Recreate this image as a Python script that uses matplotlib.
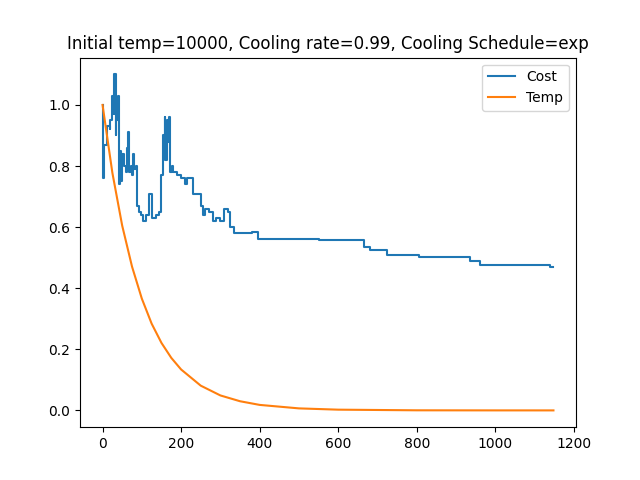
import matplotlib
matplotlib.use("Agg")
import matplotlib.pyplot as plt

cost_x = [0,2,4,10,12,18,20,25,28,30,33,35,38,40,42,45,48,50,55,60,63,66,68,72,75,78,80,85,88,92,98,103,110,116,118,122,125,135,145,150,155,158,160,163,166,170,173,176,180,190,200,210,215,230,250,255,260,270,280,290,300,310,320,325,335,380,395,430,500,550,665,680,725,805,935,960,1140,1148]
cost_y = [1.0,0.76,0.87,0.87,0.93,0.92,0.95,1.03,0.97,1.10,0.90,1.02,0.95,1.03,0.74,0.85,0.75,0.84,0.80,0.78,0.86,0.91,0.78,0.80,0.77,0.84,0.79,0.80,0.67,0.65,0.64,0.62,0.64,0.64,0.71,0.71,0.63,0.64,0.65,0.77,0.90,0.96,0.82,0.95,0.88,0.96,0.78,0.80,0.78,0.77,0.76,0.74,0.76,0.71,0.67,0.64,0.66,0.65,0.62,0.63,0.62,0.66,0.65,0.60,0.58,0.585,0.56,0.562,0.56,0.557,0.535,0.525,0.508,0.502,0.49,0.475,0.47,0.47]

temp_x = [0,25,50,75,100,125,150,175,200,250,300,350,400,500,600,800,1000,1148]
temp_y = [1.0,0.778,0.605,0.471,0.366,0.284,0.221,0.172,0.134,0.081,0.049,0.030,0.018,0.0066,0.0024,0.0003,0.00004,0.0]

fig, ax = plt.subplots(figsize=(6.4,4.8), dpi=100)
ax.plot(cost_x, cost_y, drawstyle='steps-post', label='Cost')
ax.plot(temp_x, temp_y, label='Temp')
ax.set_title('Initial temp=10000, Cooling rate=0.99, Cooling Schedule=exp')
ax.legend()
fig.savefig('out.png')
